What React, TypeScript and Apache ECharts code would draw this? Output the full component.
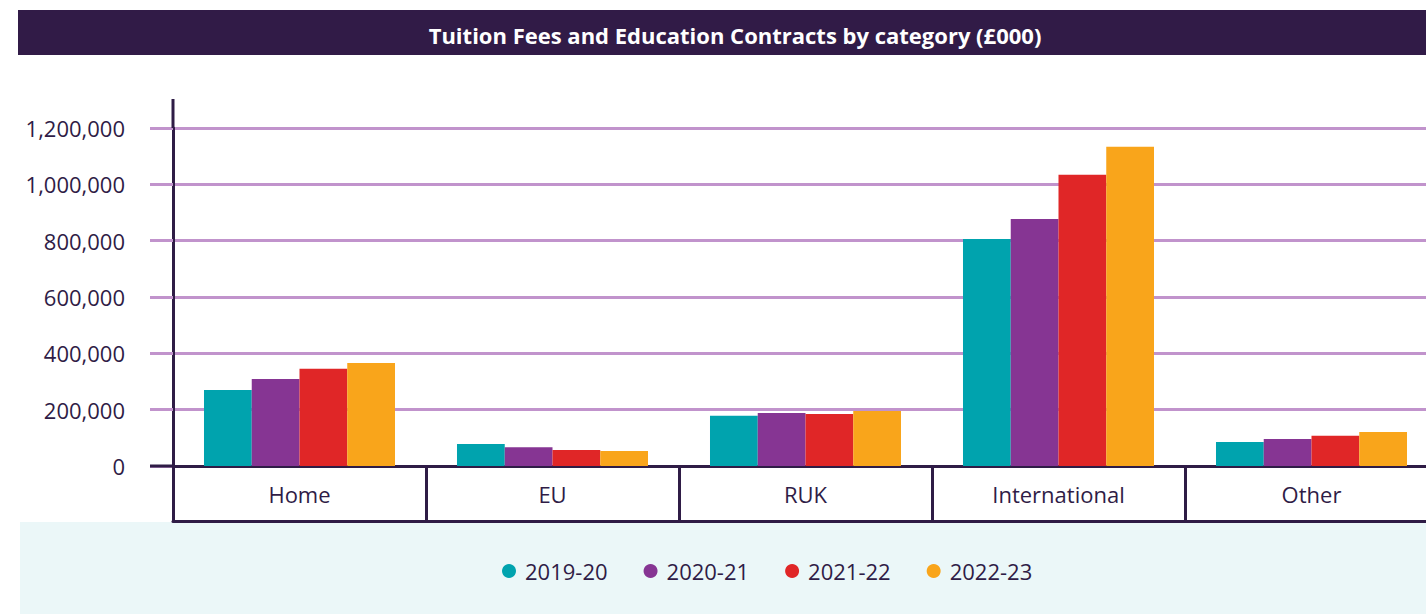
import React, { useEffect, useRef } from "react";
import * as echarts from "echarts";

const categories = ["Home", "EU", "RUK", "International", "Other"];
const seriesNames = ["2019-20", "2020-21", "2021-22", "2022-23"];
const values2019 = [270000, 78000, 178000, 806000, 85000];
const values2020 = [309000, 67000, 188000, 877000, 96000];
const values2021 = [345000, 57000, 185000, 1034000, 107000];
const values2022 = [366000, 53000, 195000, 1133000, 121000];
const yMin = 0;
const yMax = 1200000;
const yInterval = 200000;
const colors = ["#00a3ae", "#863593", "#e02627", "#f9a51b"];

const DARK = "#2f1c46";
const LAV = "#c193cc";
const FONT = "'Open Sans', sans-serif";

export default function App() {
  const ref = useRef<HTMLDivElement>(null);
  useEffect(() => {
    if (!ref.current) return;
    const chart = echarts.init(ref.current, null, { renderer: "svg" });
    const data = [values2019, values2020, values2021, values2022];
    chart.setOption({
      animation: false,
      backgroundColor: "#ffffff",
      textStyle: { fontFamily: FONT },
      title: {
        text: "Tuition Fees and Education Contracts by category (£000)",
        left: 730,
        top: 19,
        textAlign: "center",
        textStyle: { color: "#ffffff", fontSize: 22, fontWeight: "bold", fontFamily: FONT },
      },
      graphic: [
        { type: "rect", z: -10, shape: { x: 18, y: 10, width: 1430, height: 45 }, style: { fill: "#311b47" } },
        { type: "rect", z: -10, shape: { x: 20, y: 522, width: 1430, height: 92 }, style: { fill: "#ebf7f8" } },
        { type: "line", z: 10, shape: { x1: 173, y1: 99, x2: 173, y2: 128 }, style: { stroke: DARK, lineWidth: 3 } },
        { type: "line", z: 10, shape: { x1: 150, y1: 466, x2: 173, y2: 466 }, style: { stroke: DARK, lineWidth: 3 } },
      ],
      legend: {
        data: seriesNames,
        left: 497,
        top: 555,
        icon: "circle",
        itemWidth: 22,
        itemHeight: 14,
        itemGap: 36,
        textStyle: { color: DARK, fontSize: 22, fontFamily: FONT },
      },
      grid: { left: 173, right: 2, top: 128, bottom: 148 },
      xAxis: [
        {
          type: "category",
          data: categories,
          axisLine: { lineStyle: { color: DARK, width: 3 } },
          axisTick: { show: true, length: 55, inside: false, lineStyle: { color: DARK, width: 3 } },
          axisLabel: { color: DARK, fontSize: 22, margin: 17, fontFamily: FONT },
        },
        {
          type: "category",
          data: categories,
          position: "bottom",
          offset: 55,
          axisLine: { show: true, lineStyle: { color: DARK, width: 3 } },
          axisTick: { show: false },
          axisLabel: { show: false },
        },
      ],
      yAxis: {
        type: "value",
        min: yMin,
        max: yMax,
        interval: yInterval,
        axisLine: { show: true, lineStyle: { color: DARK, width: 3 } },
        axisTick: { show: true, length: 23, lineStyle: { color: LAV, width: 3 } },
        axisLabel: {
          color: DARK,
          fontSize: 22,
          margin: 48,
          fontFamily: FONT,
          formatter: (v: number) => v.toLocaleString("en-GB"),
        },
        splitLine: { show: true, lineStyle: { color: LAV, width: 3 } },
      },
      series: seriesNames.map((name, i) => ({
        name,
        type: "bar",
        data: data[i],
        itemStyle: { color: colors[i] },
        barGap: "0%",
        barCategoryGap: "24.5%",
      })),
    });
    return () => chart.dispose();
  }, []);
  return (
    <div style={{ position: "fixed", left: 0, top: 0, width: 1426, height: 614, overflow: "hidden" }}>
      <div ref={ref} style={{ width: 1440, height: 614 }} />
    </div>
  );
}
